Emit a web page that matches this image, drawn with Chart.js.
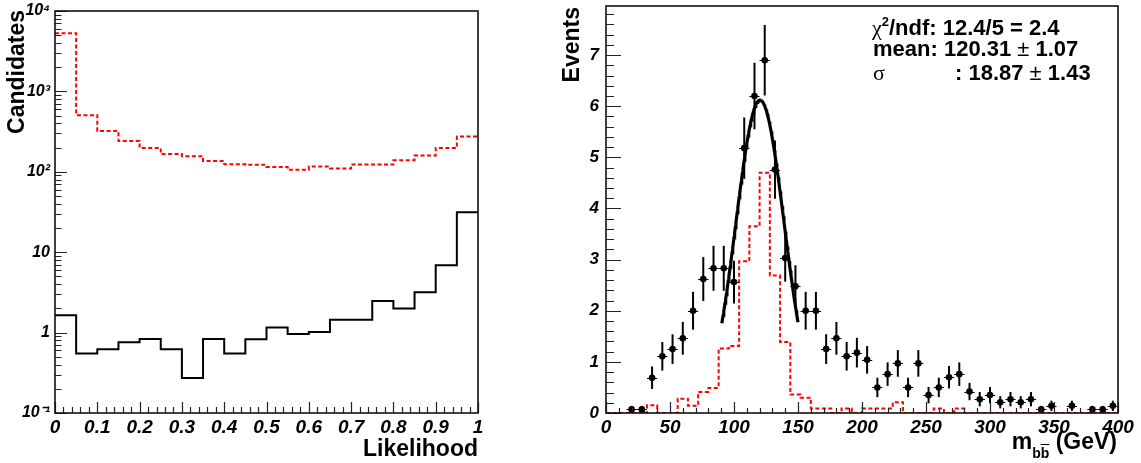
<!DOCTYPE html>
<html>
<head>
<meta charset="utf-8">
<script src="https://cdn.jsdelivr.net/npm/chart.js@4.4.1/dist/chart.umd.min.js"></script>
<style>
  body { margin: 0; background: #fff; }
  #page { position: relative; width: 1141px; height: 463px; overflow: hidden; font-family: "Liberation Sans", Arial, sans-serif; color: #000; }
  canvas { position: absolute; top: 0; }
  .title { position: absolute; font-weight: bold; font-size: 23px; line-height: 1; white-space: nowrap; }
  .vtitle { width: 200px; text-align: right; transform: rotate(-90deg); transform-origin: left top; }
  .stat { position: absolute; font-weight: bold; font-size: 22px; line-height: 1; white-space: nowrap; }
  .sym { font-family: "Liberation Serif", "DejaVu Serif", serif; font-weight: normal; }
  .pm { font-weight: normal; }
</style>
</head>
<body>
<div id="page">
  <canvas id="likelihoodChart" width="570" height="463" style="left:0"></canvas>
  <canvas id="massChart" width="571" height="463" style="left:570px"></canvas>

  <div class="title vtitle" style="left:5px; top:210px">Candidates</div>
  <div class="title" style="left:278px; top:437px; width:200px; text-align:right">Likelihood</div>
  <div class="title vtitle" style="left:560px; top:207px">Events</div>
  <div class="title" style="left:917px; top:430px; width:200px; text-align:right">m<span style="font-size:14px; vertical-align:-9px">b<span style="text-decoration:overline">b</span></span> (GeV)</div>

  <div class="stat" style="left:872px; top:15px"><span class="sym">χ</span><span style="font-size:13px; vertical-align:9px">2</span>/ndf: 12.4/5 = 2.4</div>
  <div class="stat" style="left:873px; top:38px">mean: 120.31 <span class="pm">±</span> 1.07</div>
  <div class="stat" style="left:873px; top:62px"><span class="sym">σ</span></div>
  <div class="stat" style="left:955px; top:62px">: 18.87 <span class="pm">±</span> 1.43</div>
</div>

<script>
// left panel: likelihood distribution, 20 bins of 0.05
const likelihoodLowEdges = [0, 0.05, 0.1, 0.15, 0.2, 0.25, 0.3, 0.35, 0.4, 0.45,
    0.5, 0.55, 0.6, 0.65, 0.7, 0.75, 0.8, 0.85, 0.9, 0.95];
const likelihoodBackground = [5300, 505, 321, 242, 198, 166, 156, 136, 124, 122,
    115, 106, 116, 110, 123, 123, 139, 159, 198, 274];
const likelihoodSignal = [1.64, 0.548, 0.62, 0.757, 0.832, 0.62, 0.272, 0.83, 0.548, 0.826,
    1.16, 0.96, 1.02, 1.45, 1.45, 2.47, 1.99, 3.17, 6.87, 31.3];
const leftXTickValues = [0, 0.1, 0.2, 0.3, 0.4, 0.5, 0.6, 0.7, 0.8, 0.9, 1];
const leftXTickLabels = ['0', '0.1', '0.2', '0.3', '0.4', '0.5', '0.6', '0.7', '0.8', '0.9', '1'];
const leftYTickValues = [0.1, 1, 10, 100, 1000, 10000];
const leftYTickLabels = ['10\u207B\u00B9', '1', '10', '10\u00B2', '10\u00B3', '10\u2074'];

// right panel: m_bb, 50 bins of 8 GeV
const massBinCenters = [4, 12, 20, 28, 36, 44, 52, 60, 68, 76,
    84, 92, 100, 108, 116, 124, 132, 140, 148, 156,
    164, 172, 180, 188, 196, 204, 212, 220, 228, 236,
    244, 252, 260, 268, 276, 284, 292, 300, 308, 316,
    324, 332, 340, 348, 356, 364, 372, 380, 388, 396];
const massEvents = [null, null, 0.07, 0.07, 0.69, 1.11, 1.25, 1.46, 2.00, 2.62,
    2.83, 2.83, 2.56, 5.18, 6.20, 6.90, 4.76, 3.03, 2.48, 2.00,
    2.00, 1.25, 1.46, 1.11, 1.18, 1.04, 0.50, 0.76, 0.97, 0.50,
    0.97, 0.35, 0.50, 0.70, 0.76, 0.42, 0.27, 0.35, 0.21, 0.27,
    0.21, 0.27, 0.07, 0.14, null, 0.14, null, 0.07, 0.07, 0.14];
const massErrors = [null, null, 0.07, 0.07, 0.22, 0.28, 0.29, 0.32, 0.37, 0.43,
    0.44, 0.44, 0.42, 0.60, 0.65, 0.69, 0.57, 0.46, 0.41, 0.37,
    0.37, 0.29, 0.32, 0.28, 0.29, 0.27, 0.19, 0.23, 0.26, 0.19,
    0.26, 0.16, 0.19, 0.22, 0.23, 0.17, 0.14, 0.16, 0.12, 0.14,
    0.12, 0.14, 0.07, 0.10, null, 0.10, null, 0.07, 0.07, 0.10];
const massBackground = [0, 0, 0, 0, 0.15, 0, 0, 0.28, 0.14, 0.41,
    0.49, 1.26, 1.31, 2.97, 3.65, 4.70, 2.69, 1.39, 0.36, 0.30,
    0.09, 0.09, 0, 0.09, 0, 0.09, 0.09, 0.09, 0.21, 0,
    0, 0, 0.09, 0, 0.09, 0, 0, 0, 0, 0,
    0, 0, 0, 0, 0, 0, 0, 0, 0, 0];
const massBinWidth = 8;
const rightXTickValues = [0, 50, 100, 150, 200, 250, 300, 350, 400];
const rightXTickLabels = ['0', '50', '100', '150', '200', '250', '300', '350', '400'];
const rightYTickValues = [0, 1, 2, 3, 4, 5, 6, 7];
const rightYTickLabels = ['0', '1', '2', '3', '4', '5', '6', '7'];

// gaussian fit shown in the stats box
const fitMean = 120.31;
const fitSigma = 18.87;
const fitAmplitude = 6.12;
const fitRange = [90.5, 150];

const labelFamily = '"Liberation Sans", Arial, sans-serif';

function range(start, stop, step) {
    let out = [];
    for (let v = start; v <= stop + step / 1000; v += step) out.push(+v.toFixed(6));
    return out;
}

// histogram steps: one point per lower edge, plus the closing edge
function stepPoints(lowEdges, values, lastEdge) {
    let pts = lowEdges.map((e, i) => ({ x: e, y: values[i] }));
    pts.push({ x: lastEdge, y: values[values.length - 1] });
    return pts;
}

// ROOT style frame with inward ticks
const rootAxesPlugin = {
    id: 'rootAxes',
    afterDraw(chart, args, opts) {
        const ctx = chart.ctx;
        const area = chart.chartArea;
        const xs = chart.scales.x;
        const ys = chart.scales.y;
        ctx.save();
        ctx.strokeStyle = '#222';
        ctx.lineWidth = 1.2;
        ctx.beginPath();
        opts.xMinor.forEach(v => {
            const px = Math.round(xs.getPixelForValue(v)) + 0.5;
            ctx.moveTo(px, area.bottom);
            ctx.lineTo(px, area.bottom - opts.xMinorLen);
        });
        opts.xMajor.forEach(v => {
            const px = Math.round(xs.getPixelForValue(v)) + 0.5;
            ctx.moveTo(px, area.bottom);
            ctx.lineTo(px, area.bottom - opts.xMajorLen);
        });
        opts.yMinor.forEach(v => {
            const py = Math.round(ys.getPixelForValue(v)) + 0.5;
            ctx.moveTo(area.left, py);
            ctx.lineTo(area.left + opts.yMinorLen, py);
        });
        opts.yMajor.forEach(v => {
            const py = Math.round(ys.getPixelForValue(v)) + 0.5;
            ctx.moveTo(area.left, py);
            ctx.lineTo(area.left + opts.yMajorLen, py);
        });
        ctx.stroke();
        ctx.lineWidth = 1.6;
        ctx.strokeStyle = '#111';
        ctx.strokeRect(area.left, area.top, area.right - area.left, area.bottom - area.top);
        ctx.restore();
    }
};

// vertical and horizontal error bars under the markers
const errorBarPlugin = {
    id: 'errorBars',
    beforeDatasetDraw(chart, args) {
        const ds = chart.data.datasets[args.index];
        if (!ds.errors) return;
        const ctx = chart.ctx;
        const xs = chart.scales.x;
        const ys = chart.scales.y;
        ctx.save();
        ctx.strokeStyle = '#000';
        ds.data.forEach((p, i) => {
            const px = xs.getPixelForValue(p.x);
            ctx.lineWidth = 2;
            ctx.beginPath();
            ctx.moveTo(px, ys.getPixelForValue(p.y - ds.errors[i]));
            ctx.lineTo(px, ys.getPixelForValue(p.y + ds.errors[i]));
            ctx.stroke();
            ctx.lineWidth = 1;
            ctx.beginPath();
            const py = Math.round(ys.getPixelForValue(p.y)) + 0.5;
            ctx.moveTo(xs.getPixelForValue(p.x - massBinWidth / 2), py);
            ctx.lineTo(xs.getPixelForValue(p.x + massBinWidth / 2), py);
            ctx.stroke();
        });
        ctx.restore();
    }
};

function tickFont(size) {
    return { family: labelFamily, size: size, weight: 'bold', style: 'italic' };
}

// keep the plot frame exactly where the padding puts it
function fixWidth(w) {
    return s => { s.width = w; s.paddingTop = 0; s.paddingBottom = 0; };
}
function fixHeight(h) {
    return s => { s.height = h; s.paddingLeft = 0; s.paddingRight = 0; };
}

function buildLikelihoodChart() {
    const canvas = document.getElementById('likelihoodChart');
    new Chart(canvas, {
        type: 'line',
        data: {
            datasets: [{
                label: 'signal',
                data: stepPoints(likelihoodLowEdges, likelihoodSignal, 1),
                borderColor: '#000',
                borderWidth: 2,
                stepped: 'before',
                pointRadius: 0,
                fill: false
            }, {
                label: 'background',
                data: stepPoints(likelihoodLowEdges, likelihoodBackground, 1),
                borderColor: '#ff0000',
                borderWidth: 2,
                borderDash: [4, 2.5],
                stepped: 'before',
                pointRadius: 0,
                fill: false
            }]
        },
        options: {
            responsive: false,
            animation: false,
            devicePixelRatio: 1,
            layout: { padding: { left: 0, right: 92, top: 11, bottom: 0 } },
            plugins: {
                legend: { display: false },
                tooltip: { enabled: false },
                rootAxes: {
                    xMajor: leftXTickValues, xMinor: range(0, 1, 0.02),
                    xMajorLen: 11, xMinorLen: 6,
                    yMajor: leftYTickValues,
                    yMinor: [0.1, 1, 10, 100, 1000].flatMap(d => [2, 3, 4, 5, 6, 7, 8, 9].map(k => k * d)),
                    yMajorLen: 12, yMinorLen: 6.5
                }
            },
            scales: {
                x: {
                    type: 'linear', min: 0, max: 1,
                    grid: { display: false, drawTicks: false },
                    border: { display: false },
                    afterBuildTicks: s => { s.ticks = leftXTickValues.map(v => ({ value: v })); },
                    afterFit: fixHeight(50),
                    ticks: {
                        autoSkip: false, maxRotation: 0, padding: 3, color: '#000',
                        font: tickFont(19),
                        callback: (v, i) => leftXTickLabels[i]
                    }
                },
                y: {
                    type: 'logarithmic', min: 0.1, max: 10000,
                    grid: { display: false, drawTicks: false },
                    border: { display: false },
                    afterBuildTicks: s => { s.ticks = leftYTickValues.map(v => ({ value: v })); },
                    afterFit: fixWidth(55),
                    ticks: {
                        autoSkip: false, padding: 5, color: '#000',
                        font: tickFont(16),
                        callback: (v, i) => leftYTickLabels[i]
                    }
                }
            }
        },
        plugins: [rootAxesPlugin]
    });
}

function buildMassChart() {
    const canvas = document.getElementById('massChart');
    let points = [];
    let errors = [];
    massBinCenters.forEach((c, i) => {
        if (massEvents[i] !== null) {
            points.push({ x: c, y: massEvents[i] });
            errors.push(massErrors[i]);
        }
    });
    let fitCurve = [];
    for (let m = fitRange[0]; m <= fitRange[1]; m += 0.5) {
        fitCurve.push({ x: m, y: fitAmplitude * Math.exp(-0.5 * Math.pow((m - fitMean) / fitSigma, 2)) });
    }
    const lowEdges = massBinCenters.map(c => c - massBinWidth / 2);

    new Chart(canvas, {
        type: 'line',
        data: {
            datasets: [{
                label: 'fit',
                data: fitCurve,
                borderColor: '#000',
                borderWidth: 3.2,
                pointRadius: 0,
                tension: 0,
                fill: false
            }, {
                type: 'scatter',
                label: 'data',
                data: points,
                errors: errors,
                showLine: false,
                pointStyle: 'circle',
                pointRadius: 3.3,
                pointBackgroundColor: '#000',
                pointBorderWidth: 0
            }, {
                label: 'background',
                data: stepPoints(lowEdges, massBackground, 400),
                borderColor: '#ff0000',
                borderWidth: 2,
                borderDash: [4, 2.5],
                stepped: 'before',
                pointRadius: 0,
                fill: false
            }]
        },
        options: {
            responsive: false,
            animation: false,
            devicePixelRatio: 1,
            layout: { padding: { left: 0, right: 23, top: 6, bottom: 0 } },
            plugins: {
                legend: { display: false },
                tooltip: { enabled: false },
                rootAxes: {
                    xMajor: rightXTickValues, xMinor: range(0, 400, 10),
                    xMajorLen: 11, xMinorLen: 5,
                    yMajor: rightYTickValues, yMinor: range(0, 7.8, 0.2),
                    yMajorLen: 15, yMinorLen: 8
                }
            },
            scales: {
                x: {
                    type: 'linear', min: 0, max: 400,
                    grid: { display: false, drawTicks: false },
                    border: { display: false },
                    afterBuildTicks: s => { s.ticks = rightXTickValues.map(v => ({ value: v })); },
                    afterFit: fixHeight(50),
                    ticks: {
                        autoSkip: false, maxRotation: 0, padding: 3, color: '#000',
                        font: tickFont(19),
                        callback: (v, i) => rightXTickLabels[i]
                    }
                },
                y: {
                    type: 'linear', min: 0, max: 7.96,
                    grid: { display: false, drawTicks: false },
                    border: { display: false },
                    afterBuildTicks: s => { s.ticks = rightYTickValues.map(v => ({ value: v })); },
                    afterFit: fixWidth(36),
                    ticks: {
                        autoSkip: false, padding: 7, color: '#000',
                        font: tickFont(17),
                        callback: (v, i) => rightYTickLabels[i]
                    }
                }
            }
        },
        plugins: [errorBarPlugin, rootAxesPlugin]
    });
}

buildLikelihoodChart();
buildMassChart();
</script>
</body>
</html>
